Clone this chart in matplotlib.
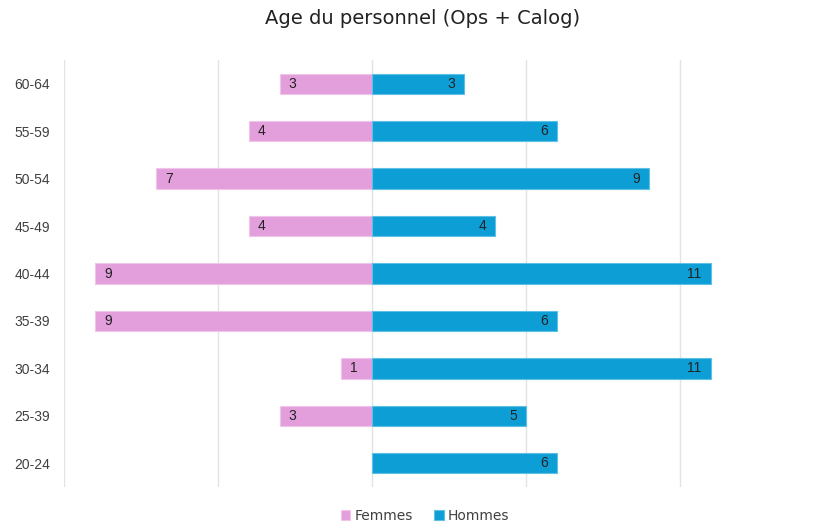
import matplotlib.pyplot as plt

ages = ['60-64', '55-59', '50-54', '45-49', '40-44', '35-39', '30-34', '25-39', '20-24']
femmes = [3, 4, 7, 4, 9, 9, 1, 3, 0]
hommes = [3, 6, 9, 4, 11, 6, 11, 5, 6]

pink = '#E39EDC'
blue = '#0E9ED6'

fig = plt.figure(figsize=(8.22, 5.24), dpi=100)
ax = fig.add_axes([64 / 822, 37 / 524, 758 / 822, 427 / 524])

y = list(range(len(ages)))[::-1]
ax.barh(y, [-f for f in femmes], height=0.43, color=pink, edgecolor='#EFC6EA', linewidth=0.8, label='Femmes', zorder=2)
ax.barh(y, hommes, height=0.43, color=blue, edgecolor='#5FC0E6', linewidth=0.8, label='Hommes', zorder=2)

# étiquettes de valeurs dans les barres
for yi, f, h in zip(y, femmes, hommes):
    if f:
        ax.text(-f + 0.3, yi, str(f), ha='left', va='center', fontsize=10, color='#222222',
                family='Liberation Sans')
    if h:
        ax.text(h - 0.3, yi, str(h), ha='right', va='center', fontsize=10, color='#222222',
                family='Liberation Sans')

ax.set_xlim(-10, 14.61)
ax.set_ylim(-0.5, 8.5)
for gx in [-10, -5, 0, 5, 10]:
    ax.axvline(gx, color='#E3E3E3', linewidth=1, zorder=1)
ax.set_xticks([])
ax.set_yticks(y)
ax.set_yticklabels(ages, fontsize=10, color='#404040', family='Liberation Sans')
ax.tick_params(axis='y', length=0, pad=10)
for s in ax.spines.values():
    s.set_visible(False)

fig.suptitle('Age du personnel (Ops + Calog)', fontsize=14, color='#222222',
             x=423 / 822, y=1 - 18 / 524, va='center')

fig.legend(loc='center', bbox_to_anchor=(425 / 822, 1 - 516 / 524), ncol=2, frameon=False,
           fontsize=10, handlelength=0.7, handleheight=0.7, handletextpad=0.3, columnspacing=1.5,
           labelcolor='#404040')

fig.savefig('out.png', dpi=100)
